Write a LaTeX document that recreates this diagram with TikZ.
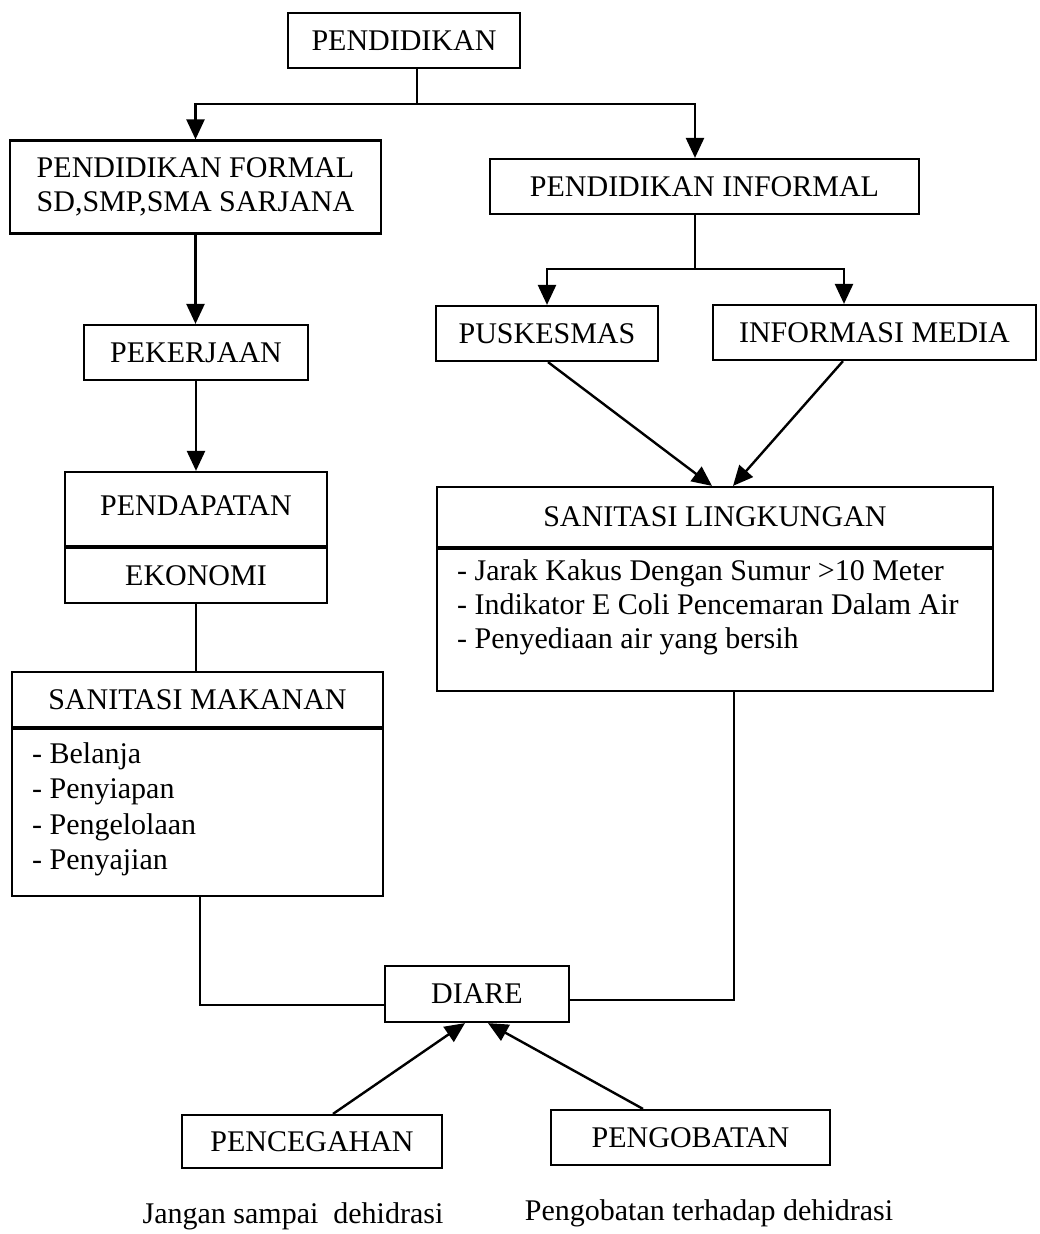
\documentclass[tikz,border=0pt]{standalone}
\usepackage{fontspec}
\setmainfont{Liberation Serif}
\usetikzlibrary{arrows.meta,calc}

\begin{document}
\begin{tikzpicture}[x=1pt, y=-1pt,
    every node/.style={font=\fontsize{30}{34}\selectfont},
    box/.style={draw, line width=2.2pt, inner sep=0pt, align=center},
    items/.style={align=left, inner sep=0pt, anchor=north west},
    link/.style={line width=2.4pt},
    arr/.style={link, -{Triangle[width=18pt,length=20pt]}}]

    % Page
    \useasboundingbox (0,0) rectangle (1040,1234);

    % Top level
    \node[box, minimum width=232pt, minimum height=55pt] (pend) at (404,40.5) {PENDIDIKAN};
    \node[box, minimum width=371pt, minimum height=93pt] (formal) at (195.5,187) {PENDIDIKAN FORMAL\\SD,SMP,SMA SARJANA};
    \node[box, minimum width=429pt, minimum height=55pt] (informal) at (704.5,186.5) {PENDIDIKAN INFORMAL};

    % Left branch
    \node[box, minimum width=224pt, minimum height=55pt] (kerja) at (196,352.5) {PEKERJAAN};
    \node[box, minimum width=262pt, minimum height=74pt] (dapat) at (196,509) {\raisebox{7pt}{PENDAPATAN}};
    \node[box, minimum width=262pt, minimum height=55pt, anchor=north] (ekonomi) at (dapat.south) {EKONOMI};
    \node[box, minimum width=371pt, minimum height=55pt] (makan) at (197.5,699.5) {SANITASI MAKANAN};
    \node[box, minimum width=371pt, minimum height=167pt, anchor=north] (makanbody) at (makan.south) {};
    \node[items, font=\fontsize{30}{35.5}\selectfont] (makanitems) at ($(makanbody.north west)+(21,14)$)
        {- Belanja\\- Penyiapan\\- Pengelolaan\\- Penyajian};

    % Right branch
    \node[box, minimum width=222pt, minimum height=55pt] (puskesmas) at (547,333.5) {PUSKESMAS};
    \node[box, minimum width=323pt, minimum height=55pt] (media) at (874.5,332.5) {INFORMASI MEDIA};
    \node[box, minimum width=556pt, minimum height=60pt] (lingk) at (715,517) {SANITASI LINGKUNGAN};
    \node[box, minimum width=556pt, minimum height=142pt, anchor=north] (lingkbody) at (lingk.south) {};
    \node[items] (lingkitems) at ($(lingkbody.north west)+(21,11)$)
        {- Jarak Kakus Dengan Sumur >10 Meter\\- Indikator E Coli Pencemaran Dalam Air\\- Penyediaan air yang bersih};

    % Bottom
    \node[box, minimum width=184pt, minimum height=56pt] (diare) at (477,994) {DIARE};
    \node[box, minimum width=260pt, minimum height=53pt] (cegah) at (312,1141.5) {PENCEGAHAN};
    \node[box, minimum width=279pt, minimum height=55pt] (obat) at (690.5,1137.5) {PENGOBATAN};
    \node (cegahnote) at (293,1216) {Jangan sampai\ \ dehidrasi};
    \node (obatnote) at (709,1213) {Pengobatan terhadap dehidrasi};

    % Split under PENDIDIKAN
    \coordinate (split) at (417,104);
    \coordinate (infox) at (695,0);
    \draw[link] (pend.south -| split) -- (split);
    \draw[arr] (split) -| (formal.north);
    \draw[arr] (split) -| (informal.north -| infox);

    % Split under PENDIDIKAN INFORMAL
    \coordinate (infosplit) at (695,269);
    \draw[link] (informal.south -| infosplit) -- (infosplit);
    \draw[arr] (infosplit) -| (puskesmas.north);
    \draw[arr] (infosplit) -| ($(media.north)+(-30.5,0)$);

    % Left chain
    \draw[arr] (formal.south) -- (formal.south |- kerja.north);
    \draw[arr] (kerja.south) -- (dapat.north);
    \draw[link] (ekonomi.south) -- (ekonomi.south |- makan.north);

    % Into SANITASI LINGKUNGAN
    \draw[arr] ($(puskesmas.south)+(1,0)$) -- ($(lingk.north)+(-3,0)$);
    \draw[arr] ($(media.south)+(-31.5,0)$) -- ($(lingk.north)+(18,0)$);

    % Into DIARE
    \draw[link] ($(makanbody.south)+(2.5,0)$) |- ($(diare.west)+(0,11)$);
    \draw[link] ($(lingkbody.south)+(19,0)$) |- ($(diare.east)+(0,6)$);
    \draw[arr] ($(cegah.north)+(21,0)$) -- ($(diare.south)+(-12,0)$);
    \draw[arr] ($(obat.north)+(-47.5,0)$) -- ($(diare.south)+(11,0)$);
\end{tikzpicture}
\end{document}
